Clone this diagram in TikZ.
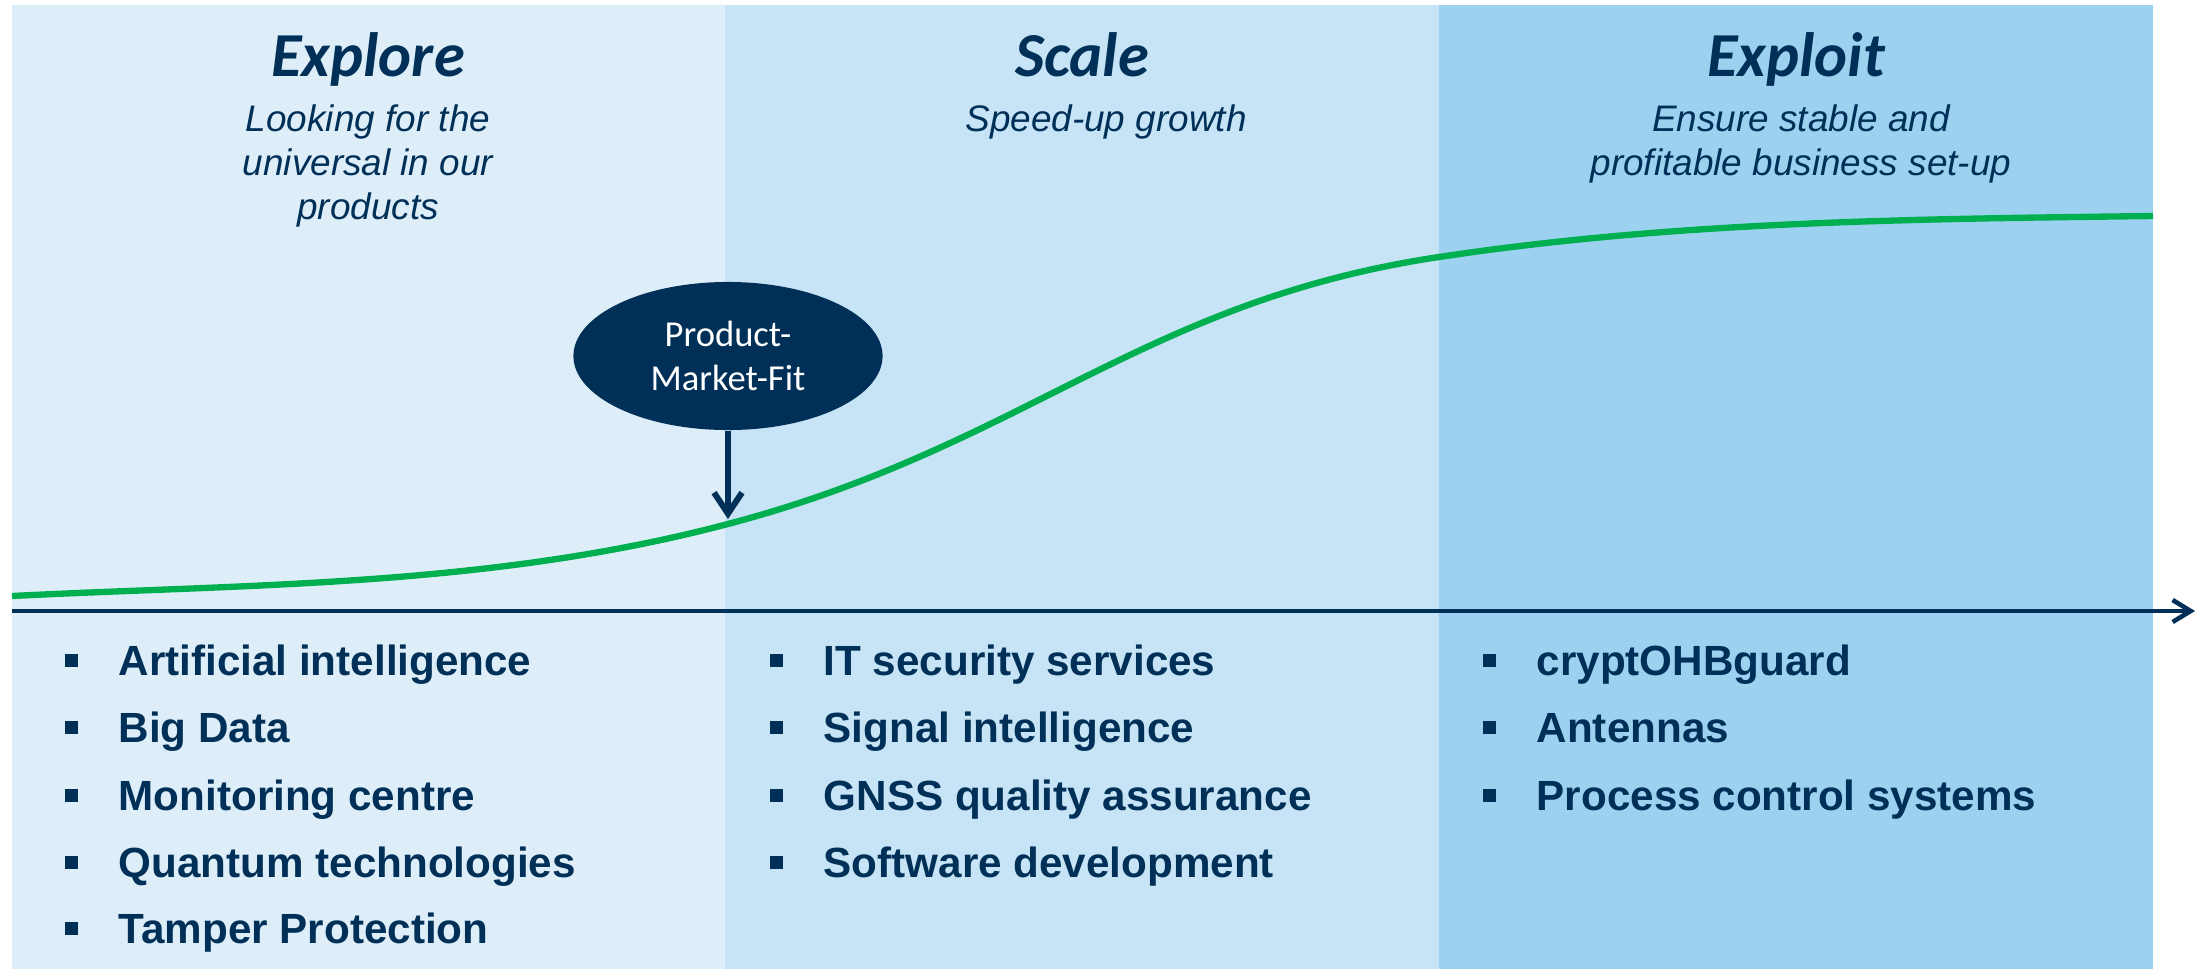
\documentclass[tikz,border=0pt]{standalone}
\usepackage{fontspec}
\setmainfont{Liberation Sans}
\newfontfamily\carlito{Carlito}
\usetikzlibrary{shapes.geometric,arrows.meta}
\definecolor{navy}{RGB}{0,48,87}
\definecolor{curvegreen}{RGB}{0,176,80}
\definecolor{pone}{RGB}{222,238,249}
\definecolor{ptwo}{RGB}{199,228,246}
\definecolor{pthree}{RGB}{157,209,240}
\newcommand\bul{\makebox[0.54cm][l]{\raisebox{0.08cm}{\rule{0.13cm}{0.13cm}}}}
\tikzset{
  ttl/.style={anchor=base, inner sep=0pt, text=navy, font=\carlito\bfseries\itshape\fontsize{17.8}{20}\selectfont},
  subttl/.style={anchor=base, inner sep=0pt, text=navy, align=center, font=\itshape\fontsize{10.5}{12.4}\selectfont},
  itemtext/.style={anchor=base west, inner sep=0pt, text=navy, font=\bfseries\fontsize{12}{14}\selectfont},
  pmfnode/.style={ellipse, fill=navy, text=white, inner sep=0pt, minimum width=3.09cm, minimum height=1.48cm, align=center, font=\carlito\fontsize{10.4}{12.5}\selectfont},
  darrow/.style={draw=navy, line width=1.5pt, -{Straight Barb[length=0.21cm,width=0.28cm,line width=1.7pt]}},
  axisline/.style={draw=navy, line width=1.1pt, -{Straight Barb[length=0.18cm,width=0.22cm,line width=1.3pt]}},
  scurve/.style={draw=curvegreen, line width=1.8pt}
}
\begin{document}
\begin{tikzpicture}[x=0.01cm,y=-0.01cm]
\useasboundingbox (0,0) rectangle (2205,969);
\fill[white] (0,0) rectangle (2205,969);
% panels
\fill[pone] (12,5) rectangle (725,969);
\fill[ptwo] (725,5) rectangle (1439,969);
\fill[pthree] (1439,5) rectangle (2153,969);
% titles
\node[ttl] (t1) at (368,76) {Explore};
\node[ttl] (t2) at (1082,76) {Scale};
\node[ttl] (t3) at (1796,76) {Exploit};
% subtitles (base anchor = baseline of last line)
\node[subttl] (s1) at (368,219) {Looking for the\\universal in our\\products};
\node[subttl] (s2) at (1106,131) {Speed-up growth};
\node[subttl] (s3) at (1801,175) {Ensure stable and\\profitable business set-up};
% curve
\coordinate (c0) at (12,596);
\coordinate (c1) at (724,525);
\coordinate (c2) at (1439,257);
\coordinate (c3) at (2153,216);
\draw[scurve] (c0) .. controls (249,584) and (487,587) .. (c1)
  .. controls (1024,447) and (1139,302) .. (c2)
  .. controls (1677,221) and (1915,219) .. (c3);
% axis
\coordinate (ax0) at (12,611);
\coordinate (ax1) at (2195,611);
\draw[axisline] (ax0) -- (ax1);
% product-market-fit
\node[pmfnode] (pmf) at (728,356) {Product-\\Market-Fit};
\coordinate (pmftip) at (728,519);
\draw[darrow] (pmf.south) -- (pmftip);
% lists
\node[itemtext] (a1) at (64,675) {\bul Artificial intelligence};
\node[itemtext] (a2) at (64,742) {\bul Big Data};
\node[itemtext] (a3) at (64,810) {\bul Monitoring centre};
\node[itemtext] (a4) at (64,877) {\bul Quantum technologies};
\node[itemtext] (a5) at (64,943) {\bul Tamper Protection};
\node[itemtext] (b1) at (769,675) {\bul IT security services};
\node[itemtext] (b2) at (769,742) {\bul Signal intelligence};
\node[itemtext] (b3) at (769,810) {\bul GNSS quality assurance};
\node[itemtext] (b4) at (769,877) {\bul Software development};
\node[itemtext] (c1t) at (1482,675) {\bul cryptOHBguard};
\node[itemtext] (c2t) at (1482,742) {\bul Antennas};
\node[itemtext] (c3t) at (1482,810) {\bul Process control systems};
\end{tikzpicture}
\end{document}
